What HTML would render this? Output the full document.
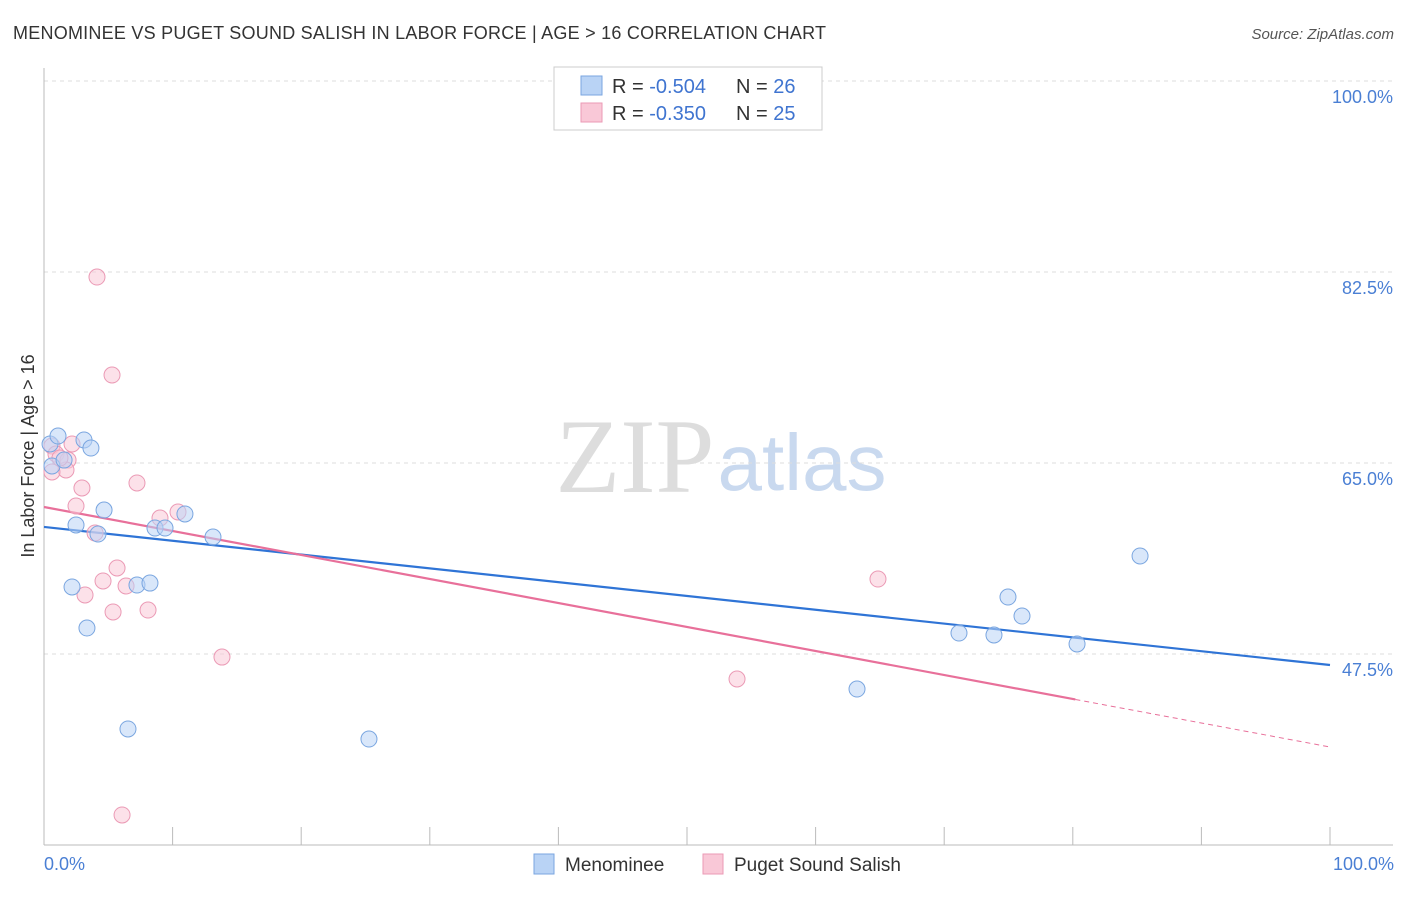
<!DOCTYPE html>
<html><head><meta charset="utf-8">
<style>
body{margin:0;background:#fff;font-family:"Liberation Sans",sans-serif;}
svg text{font-family:"Liberation Sans",sans-serif;}
</style></head>
<body>
<svg id="chart" width="1406" height="892" viewBox="0 0 1406 892" xmlns="http://www.w3.org/2000/svg">
<text x="13" y="39" font-size="18" fill="#333" textLength="813">MENOMINEE VS PUGET SOUND SALISH IN LABOR FORCE | AGE &gt; 16 CORRELATION CHART</text>
<text x="1394" y="39" font-size="15" fill="#555" text-anchor="end" font-style="italic">Source: ZipAtlas.com</text>
<g>
<text x="635" y="492" font-size="106" fill="#ddd" text-anchor="middle" style="font-family:'Liberation Serif',serif">ZIP</text>
<text x="802" y="490" font-size="80" fill="#c9d9ef" text-anchor="middle">atlas</text>
</g>
<g id="grid"></g>
<g id="axes"></g>
<g id="lines"></g>
<g id="points"></g>
<text transform="translate(34,456) rotate(-90)" font-size="18" fill="#333" text-anchor="middle">In Labor Force | Age &gt; 16</text>
<text x="44" y="870" font-size="18" fill="#4a7fd4">0.0%</text>
<text x="1394" y="870" font-size="18" fill="#4a7fd4" text-anchor="end">100.0%</text>
<g>
<rect x="554" y="67" width="268" height="63" fill="#fff" stroke="#ccc"/>
<rect x="581" y="76" width="21" height="19" fill="#b9d3f5" stroke="#7aa6e0"/>
<rect x="581" y="103" width="21" height="19" fill="#f9c8d7" stroke="#eb9ab5"/>
<text x="612" y="93" font-size="20" fill="#333">R = <tspan fill="#3f74d0">-0.504</tspan></text>
<text x="736" y="93" font-size="20" fill="#333">N = <tspan fill="#3f74d0">26</tspan></text>
<text x="612" y="120" font-size="20" fill="#333">R = <tspan fill="#3f74d0">-0.350</tspan></text>
<text x="736" y="120" font-size="20" fill="#333">N = <tspan fill="#3f74d0">25</tspan></text>
</g>
<g>
<rect x="534" y="854" width="20" height="20" fill="#b9d3f5" stroke="#7aa6e0"/>
<text x="565" y="871" font-size="19" fill="#333">Menominee</text>
<rect x="703" y="854" width="20" height="20" fill="#f9c8d7" stroke="#eb9ab5"/>
<text x="734" y="871" font-size="19" fill="#333">Puget Sound Salish</text>
</g>
</svg>
<script>
const yTicks=[100,82.5,65,47.5];
const yTickLabels=["100.0%","82.5%","65.0%","47.5%"];
const xTicks=[0,10,20,30,40,50,60,70,80,90,100];
const blueX=[0.47,1.09,3.11,3.65,0.62,1.56,2.49,4.67,4.20,8.63,9.41,10.96,13.14,2.18,3.34,7.23,8.24,6.53,25.27,63.22,71.15,73.87,74.96,76.05,80.33,85.23];
const blueY=[66.74,67.47,67.11,66.37,64.73,65.27,59.32,60.69,58.49,59.04,59.04,60.33,58.22,53.64,49.88,53.82,54.0,40.63,39.71,44.29,49.42,49.24,52.72,50.98,48.42,56.48];
const pinkX=[4.12,5.29,0.62,0.93,1.87,1.71,0.62,2.95,2.49,3.97,7.23,9.02,10.42,5.68,4.59,3.19,5.37,6.38,8.09,13.84,53.89,64.85,6.07,1.24,2.18];
const pinkY=[82.04,73.06,66.56,65.82,65.27,64.36,64.18,62.71,61.06,58.59,63.17,59.96,60.51,55.38,54.19,52.91,51.35,53.73,51.53,47.22,45.21,54.37,32.75,65.46,66.74];
const blueTrend=[59.14,46.49];
const pinkTrend=[60.97,38.98];
const pinkSolidEnd=80.2;

const NS="http://www.w3.org/2000/svg";
const xs=v=>44+v*12.86;
const ys=v=>463-(v-65)*191/17.5;
function mk(t,a,p){const e=document.createElementNS(NS,t);for(const k in a)e.setAttribute(k,a[k]);document.getElementById(p).appendChild(e);return e;}

yTicks.forEach((t,i)=>{
 const l=mk('line',{x1:44,x2:1393,y1:ys(t),y2:ys(t),stroke:'#ddd','stroke-dasharray':'4,4'},'grid');
 
 
 const tx=mk('text',{x:1393,y:ys(t)+22,'font-size':18,fill:'#4a7fd4','text-anchor':'end'},'grid');
 tx.textContent=yTickLabels[i];
 
 
});
const ax=mk('line',{x1:44,x2:44,y1:68,y2:845,stroke:'#bbb'},'axes');


const bx=mk('line',{x1:44,x2:1393,y1:845,y2:845,stroke:'#bbb'},'axes');


xTicks.forEach(t=>{
 const l=mk('line',{x1:xs(t),x2:xs(t),y1:827,y2:845,stroke:'#bbb'},'axes');
 
 
});
function pts(X,Y,fill,stroke,name){
 X.forEach((x,i)=>{
  const c=mk('circle',{cx:xs(x),cy:ys(Y[i]),r:8,fill:fill,stroke:stroke,'stroke-width':1,'fill-opacity':0.55},'points');
  
  
 });
}
pts(pinkX,pinkY,'#f9c8d7','#eb9ab5','puget-point');
pts(blueX,blueY,'#b9d3f5','#7aa6e0','menominee-point');
const lerp=(a,b,t)=>a+(b-a)*t/100;
const bl=mk('line',{x1:xs(0),y1:ys(blueTrend[0]),x2:xs(100),y2:ys(blueTrend[1]),stroke:'#2f74d6','stroke-width':2.2},'lines');


const pl=mk('line',{x1:xs(0),y1:ys(pinkTrend[0]),x2:xs(pinkSolidEnd),y2:ys(lerp(pinkTrend[0],pinkTrend[1],pinkSolidEnd)),stroke:'#e8709a','stroke-width':2.2},'lines');


const pd=mk('line',{x1:xs(pinkSolidEnd),y1:ys(lerp(pinkTrend[0],pinkTrend[1],pinkSolidEnd)),x2:xs(100),y2:ys(pinkTrend[1]),stroke:'#e8709a','stroke-width':1,'stroke-dasharray':'5,4'},'lines');


</script>
</body></html>
